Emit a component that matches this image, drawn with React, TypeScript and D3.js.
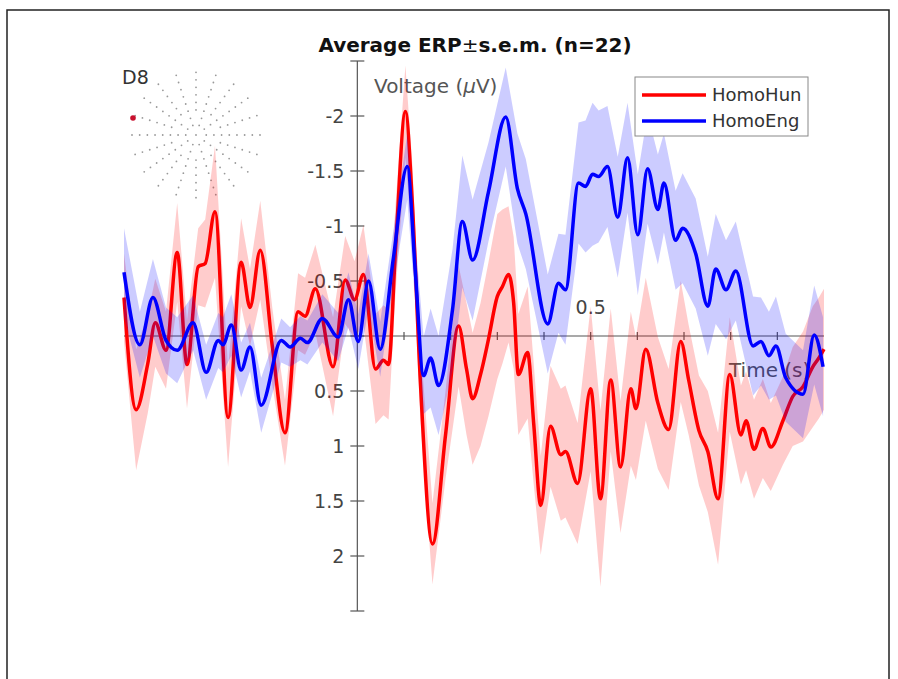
import React from "react";
import * as d3 from "d3";

// time (s) of each sample
const hunTime = [
  -0.5, -0.474, -0.449, -0.433, -0.41, -0.386, -0.365, -0.341, -0.326, -0.305,
  -0.277, -0.249, -0.23, -0.208, -0.182, -0.155, -0.127, -0.112, -0.09, -0.052,
  -0.026, -0.006, 0.013, 0.039, 0.056, 0.067, 0.082, 0.103, 0.118, 0.135,
  0.161, 0.189, 0.217, 0.234, 0.247, 0.264, 0.281, 0.3, 0.311, 0.324,
  0.335, 0.345, 0.365, 0.378, 0.393, 0.414, 0.436, 0.446, 0.472, 0.5,
  0.521, 0.543, 0.564, 0.586, 0.597, 0.618, 0.644, 0.667, 0.693, 0.71,
  0.732, 0.751, 0.773, 0.798, 0.822, 0.833, 0.85, 0.869, 0.886, 0.912,
  0.933, 0.955, 0.976, 0.989, 1.0
];
const hunMean = [
  -0.35, 0.67, 0.25, -0.12, 0.13, -0.76, 0.26, -0.63, -0.66, -1.13,
  0.74, -0.67, -0.26, -0.78, 0.1, 0.88, -0.22, -0.18, -0.43, 0.28,
  -0.51, -0.33, -0.56, 0.3, 0.22, 0.26, -0.8, -2.04, -1.2, 0.41,
  1.89, 0.9, -0.09, 0.3, 0.57, 0.35, 0.03, -0.36, -0.45, -0.56,
  -0.3, 0.35, 0.15, 0.8, 1.54, 0.82, 1.08, 1.05, 1.34, 0.48,
  1.48, 0.4, 1.19, 0.48, 0.66, 0.12, 0.61, 0.85, 0.05, 0.4,
  0.86, 1.05, 1.48, 0.35, 0.9, 0.77, 1.03, 0.84, 1.01, 0.77,
  0.55, 0.46, 0.28, 0.2, 0.12
];
const hunSem = [
  0.4, 0.55, 0.45, 0.4, 0.35, 0.45, 0.4, 0.35, 0.4, 0.6,
  0.45, 0.4, 0.35, 0.45, 0.35, 0.3, 0.35, 0.35, 0.4, 0.45,
  0.4, 0.35, 0.45, 0.5, 0.5, 0.5, 0.4, 0.42, 0.35, 0.35,
  0.37, 0.4, 0.55, 0.6, 0.6, 0.65, 0.7, 0.75, 0.7, 0.62,
  0.6, 0.55, 0.6, 0.55, 0.45, 0.55, 0.6, 0.6, 0.55, 0.75,
  0.8, 0.65, 0.6, 0.7, 0.65, 0.65, 0.6, 0.55, 0.55, 0.5,
  0.5, 0.55, 0.6, 0.52, 0.45, 0.45, 0.45, 0.45, 0.4, 0.4,
  0.45, 0.5, 0.55, 0.55, 0.55
];

const engTime = [
  -0.5, -0.466, -0.438, -0.41, -0.386, -0.352, -0.324, -0.298, -0.288, -0.27,
  -0.249, -0.23, -0.206, -0.163, -0.144, -0.122, -0.107, -0.075, -0.041, -0.019,
  0.002, 0.024, 0.049, 0.077, 0.107, 0.124, 0.142, 0.157, 0.174, 0.204,
  0.225, 0.247, 0.281, 0.318, 0.343, 0.361, 0.408, 0.431, 0.446, 0.474,
  0.489, 0.504, 0.517, 0.536, 0.558, 0.579, 0.601, 0.622, 0.644, 0.657,
  0.682, 0.697, 0.725, 0.751, 0.768, 0.79, 0.811, 0.848, 0.865, 0.882,
  0.897, 0.918, 0.955, 0.979, 0.998
];
const engMean = [
  -0.58, 0.08, -0.35, 0.04, 0.13, -0.12, 0.33, 0.04, 0.08, -0.1,
  0.31, 0.1, 0.63, 0.04, 0.1, 0.02, 0.06, -0.16, 0.01, -0.33,
  0.05, -0.5, 0.12, -0.7, -1.54, -0.6, 0.36, 0.2, 0.45, -0.24,
  -1.04, -0.69, -1.31, -1.99, -1.34, -1.11, -0.11, -0.48, -0.42, -1.39,
  -1.36, -1.47, -1.45, -1.54, -1.08, -1.62, -0.92, -1.52, -1.15, -1.39,
  -0.87, -0.98, -0.75, -0.27, -0.61, -0.42, -0.59, 0.09, 0.05, 0.18,
  0.09, 0.38, 0.53, -0.01, 0.28
];
const engSem = [
  0.4, 0.3, 0.35, 0.3, 0.3, 0.25, 0.25, 0.25, 0.25, 0.28,
  0.25, 0.22, 0.25, 0.2, 0.18, 0.2, 0.2, 0.22, 0.22, 0.25,
  0.25, 0.25, 0.25, 0.25, 0.3, 0.3, 0.35, 0.45, 0.45, 0.55,
  0.6, 0.55, 0.45, 0.45, 0.5, 0.5, 0.45, 0.45, 0.5, 0.55,
  0.6, 0.65, 0.6, 0.55, 0.55, 0.5, 0.55, 0.5, 0.5, 0.45,
  0.45, 0.5, 0.5, 0.45, 0.5, 0.45, 0.45, 0.45, 0.4, 0.4,
  0.45, 0.4, 0.4, 0.45, 0.45
];

const seriesNames = ["HomoHun", "HomoEng"];
const yTicks = [-2.5, -2, -1.5, -1, -0.5, 0, 0.5, 1, 1.5, 2, 2.5];
const yTickLabels = ["", "-2", "-1.5", "-1", "-0.5", "", "0.5", "1", "1.5", "2", ""];
const xTicks = [0.1, 0.2, 0.3, 0.4, 0.5, 0.6, 0.7, 0.8, 0.9];
const xTickLabels = [["0.5", 0.5]];

// electrode layout of the little head inset (spoke angles in degrees, ring radii 0..1)
const spokeAngles = d3.range(0, 360, 18);
const ringRadii = [0.16, 0.28, 0.4, 0.52, 0.64, 0.76, 0.88, 1.0];

const FONT = "'DejaVu Sans', Verdana, sans-serif";

export default function App() {
  const width = 898,
    height = 679;

  const x = d3.scaleLinear().domain([-0.5, 1.0]).range([124, 824]);
  const y = d3.scaleLinear().domain([-2.5, 2.5]).range([61, 611]);

  const mk = (t: number[], m: number[], s: number[]) =>
    t.map((tt, i) => ({ t: tt, m: m[i], s: s[i] }));
  const hun = mk(hunTime, hunMean, hunSem);
  const eng = mk(engTime, engMean, engSem);

  const line = d3
    .line<any>()
    .x(d => x(d.t))
    .y(d => y(d.m))
    .curve(d3.curveMonotoneX);
  const band = d3
    .area<any>()
    .x(d => x(d.t))
    .y0(d => y(d.m - d.s))
    .y1(d => y(d.m + d.s))
    .curve(d3.curveLinear);

  const x0 = x(0),
    y0 = y(0);
  const axisColor = "#555";
  const labelColor = "#444";

  // head inset
  const hc = { x: 196, y: 135, r: 64 };
  const dots: { x: number; y: number }[] = [];
  spokeAngles.forEach((a, i) => {
    ringRadii.forEach((r, j) => {
      if (i % 2 === 1 && j < 2) return;
      const rad = (a * Math.PI) / 180;
      dots.push({ x: hc.x + Math.cos(rad) * r * hc.r, y: hc.y + Math.sin(rad) * r * hc.r * 0.98 });
    });
  });

  return (
    <svg
      width={width}
      height={height}
      style={{ position: "absolute", left: 0, top: 0, background: "#fff" }}
      fontFamily={FONT}
    >
      {/* frame */}
      <path d={`M7,${height} V10 H889 V${height}`} fill="none" stroke="#222" strokeWidth={1.5} />

      {/* title */}
      <text x={475} y={52} textAnchor="middle" fontSize={20} fontWeight="bold" fill="#111">
        Average ERP<tspan fontWeight="normal">±</tspan>s.e.m. (n=22)
      </text>

      {/* head inset */}
      <text x={122} y={84} fontSize={19} fill="#333">D8</text>
      {dots.map((d, i) => (
        <circle key={i} cx={d.x} cy={d.y} r={0.9} fill="#999" />
      ))}
      <circle cx={hc.x} cy={hc.y} r={0.9} fill="#999" />
      <circle cx={133} cy={118} r={2.8} fill="#c8102e" />

      {/* axes */}
      <g stroke={axisColor} strokeWidth={1.2}>
        <line x1={x(-0.5)} x2={x(1.0)} y1={y0} y2={y0} />
        <line x1={x0} x2={x0} y1={y(-2.5)} y2={y(2.5)} />
        {yTicks.map(v => (
          <line key={v} x1={x0 - 7} x2={x0 + 7} y1={y(v)} y2={y(v)} />
        ))}
        {xTicks.map(v => (
          <line key={v} x1={x(v)} x2={x(v)} y1={y0 - 4} y2={y0 + 4} />
        ))}
      </g>
      <g fontSize={19} fill={labelColor} textAnchor="end">
        {yTicks.map((v, i) => (
          <text key={v} x={x0 - 13} y={y(v)} dy="0.36em">
            {yTickLabels[i]}
          </text>
        ))}
      </g>
      {xTickLabels.map(([lab, v]) => (
        <text key={lab as string} x={x(v as number)} y={y0 - 29} dy="0.36em" textAnchor="middle" fontSize={19} fill={labelColor}>
          {lab}
        </text>
      ))}
      <text x={374} y={93} fontSize={20} fill="#555">
        Voltage (<tspan fontStyle="italic">μ</tspan>V)
      </text>
      <text x={729} y={377} fontSize={20} fill="#555">
        Time (s)
      </text>

      {/* data */}
      <path d={band(hun) || ""} fill="#ff0000" fillOpacity={0.2} stroke="none" />
      <path d={line(hun) || ""} fill="none" stroke="#ff0000" strokeWidth={3.5} strokeLinejoin="round" />
      <path d={band(eng) || ""} fill="#0000ff" fillOpacity={0.2} stroke="none" />
      <path d={line(eng) || ""} fill="none" stroke="#0000ff" strokeWidth={3.5} strokeLinejoin="round" />

      {/* legend */}
      <g>
        <rect x={635} y={77} width={173} height={59} fill="#fff" stroke="#888" strokeWidth={1} />
        {seriesNames.map((n, i) => (
          <g key={n}>
            <line
              x1={642}
              x2={706}
              y1={95 + i * 26}
              y2={95 + i * 26}
              stroke={i === 0 ? "#ff0000" : "#0000ff"}
              strokeWidth={3.5}
            />
            <text x={712} y={95 + i * 26} dy="0.36em" fontSize={18} fill="#333">
              {n}
            </text>
          </g>
        ))}
      </g>
    </svg>
  );
}
